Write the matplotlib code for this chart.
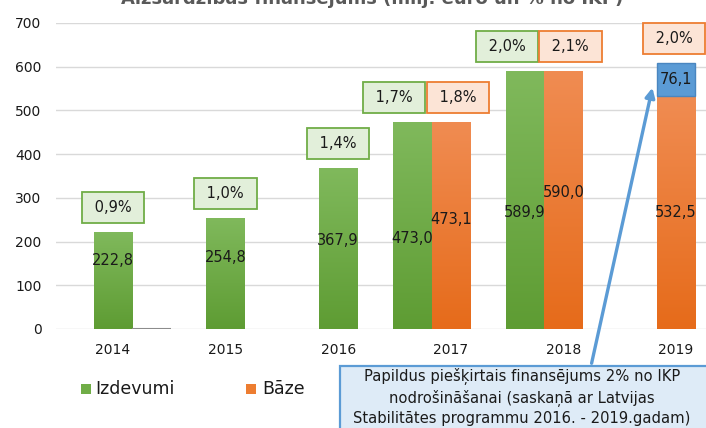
import numpy as np
import matplotlib
matplotlib.use("Agg")
import matplotlib.pyplot as plt
from matplotlib.colors import LinearSegmentedColormap
from matplotlib.patches import Rectangle, FancyArrowPatch

# ---------------- data ----------------
years = ["2014", "2015", "2016", "2017", "2018", "2019"]
izdevumi = [222.8, 254.8, 367.9, 473.0, 589.9, None]
baze = [0.0, None, None, 473.1, 590.0, 532.5]
papildus = [None, None, None, None, None, 76.1]
izdevumi_pct = ["0,9%", "1,0%", "1,4%", "1,7%", "2,0%", None]
baze_pct = [None, None, None, "1,8%", "2,1%", "2,0%"]
izdevumi_lbl = ["222,8", "254,8", "367,9", "473,0", "589,9", None]
baze_lbl = [None, None, None, "473,1", "590,0", "532,5"]
papildus_lbl = [None, None, None, None, None, "76,1"]
legend_labels = ["Izdevumi", "Bāze"]
title = "Aizsardzības finansējums (milj. euro un % no IKP)"
note = ("Papildus piešķirtais finansējums 2% no IKP\n"
        "nodrošināšanai (saskaņā ar Latvijas\n"
        "Stabilitātes programmu 2016. - 2019.gadam)")

# label vertical placement (fraction of bar height) - layout only
g_frac = [0.70, 0.64, 0.55, 0.44, 0.45, None]
o_frac = [None, None, None, 0.53, 0.53, 0.50]

# ---------------- style ----------------
W, H = 706, 428
plt.rcParams['font.family'] = ['DejaVu Sans']
fig = plt.figure(figsize=(W / 100, H / 100), dpi=100)
ax = fig.add_axes([56 / W, 1 - 329 / H, 1 - 56 / W, (329 - 23) / H])

GREEN, ORANGE, BLUE = "#70AD47", "#ED7D31", "#5B9BD5"
green_cmap = LinearSegmentedColormap.from_list("g", ["#5E9C33", "#80B95C"])
orange_cmap = LinearSegmentedColormap.from_list("o", ["#E66B1A", "#F08C52"])
bw = 38.5 / 112.6
PX = 0.72  # points per pixel

def gradient(rect, cmap):
    x0, y0 = rect.get_x(), rect.get_y()
    w, h = rect.get_width(), rect.get_height()
    if h <= 0:
        return
    grad = np.linspace(0, 1, 256).reshape(-1, 1)
    im = ax.imshow(grad, extent=(x0, x0 + w, y0, y0 + h), origin="lower",
                   cmap=cmap, aspect="auto", zorder=2.5)
    im.set_clip_path(rect)

def pct_box(x, top, text, face, edge, dx_px=0):
    ax.annotate(" " + text + " ", xy=(x, top), xytext=(dx_px * PX, 17.5),
                textcoords="offset points", ha="center", va="center",
                fontsize=10.5, color="#1a1a1a", zorder=5,
                bbox=dict(boxstyle="square,pad=0.55", fc=face, ec=edge, lw=1.3))

for i, yr in enumerate(years):
    g = izdevumi[i]
    o = baze[i]
    p = papildus[i]
    has_g = g is not None
    has_o = o is not None and o > 0
    if has_g:
        gx = i - bw if has_o else i
        r = ax.bar(gx, g, width=bw, color=GREEN, zorder=2)[0]
        gradient(r, green_cmap)
        ax.text(gx, g * g_frac[i], izdevumi_lbl[i], ha="center", va="center",
                fontsize=10.5, color="#1a1a1a", zorder=5)
        if izdevumi_pct[i]:
            pct_box(gx, g, izdevumi_pct[i], "#E2EFDA", GREEN,
                    dx_px=-18 if has_o else 0)
    if o is not None:
        if not has_o:
            ox = i + bw
            ax.plot([ox - bw / 2, ox + bw / 2], [0, 0], color="#8c8c8c", lw=1.5,
                    zorder=3, solid_capstyle="butt")
        else:
            ox = i
            r = ax.bar(ox, o, width=bw, color=ORANGE, zorder=2)[0]
            gradient(r, orange_cmap)
            ax.text(ox, o * o_frac[i], baze_lbl[i], ha="center", va="center",
                    fontsize=10.5, color="#1a1a1a", zorder=5)
            top = o
            if p is not None:
                ax.bar(ox, p, width=bw, bottom=o, color=BLUE, edgecolor="#4A86C0",
                       lw=1, zorder=3)
                ax.text(ox, o + p / 2, papildus_lbl[i], ha="center", va="center",
                        fontsize=10.5, color="#1a1a1a", zorder=5)
                top = o + p
            if baze_pct[i]:
                pct_box(ox, top, baze_pct[i], "#FCE4D6", ORANGE,
                        dx_px=7 if has_g else -2)

ax.set_xlim(-57 / 112.6, (706 - 113) / 112.6)
ax.set_ylim(0, 700)
ax.set_yticks(range(0, 701, 100))
ax.set_xticks(range(len(years)))
ax.set_xticklabels(years)
ax.tick_params(axis="both", length=0, labelsize=10, colors="#1a1a1a")
ax.tick_params(axis="y", pad=10.5)
ax.tick_params(axis="x", pad=10)
ax.grid(axis="y", color="#D9D9D9", lw=1, zorder=0)
ax.set_axisbelow(True)
for s in ax.spines.values():
    s.set_visible(False)

# title (cut off at the top edge, as in the source image)
fig.text(372 / W, 1 - 4 / H, title, ha="center", va="baseline", fontsize=13,
         color="#595959", fontweight="bold")

# legend
fig.patches.append(Rectangle((81 / W, 1 - 394 / H), 10 / W, 10 / H,
                             transform=fig.transFigure, fc=GREEN, ec="none"))
fig.text(95 / W, 1 - 389 / H, legend_labels[0], ha="left", va="center",
         fontsize=12.5, color="#1a1a1a")
fig.patches.append(Rectangle((246 / W, 1 - 394 / H), 10 / W, 10 / H,
                             transform=fig.transFigure, fc=ORANGE, ec="none"))
fig.text(262 / W, 1 - 389 / H, legend_labels[1], ha="left", va="center",
         fontsize=12.5, color="#1a1a1a")

# note box
fig.patches.append(Rectangle((340 / W, -10 / H), 380 / W, (10 + 428 - 366) / H,
                             transform=fig.transFigure, fc="#DEEBF7",
                             ec=BLUE, lw=1.6, zorder=1))
fig.text(522 / W, 1 - 397 / H, note, ha="center", va="center", fontsize=10.6,
         color="#1a1a1a", linespacing=1.38, zorder=2)

# arrow from note box to the extra financing bar
arrow = FancyArrowPatch((591 / W, 1 - 366 / H), (653 / W, 1 - 85 / H),
                        transform=fig.transFigure, arrowstyle="-|>",
                        mutation_scale=14, color=BLUE, lw=2.4, zorder=3)
fig.patches.append(arrow)

fig.savefig("out.png", dpi=100)
